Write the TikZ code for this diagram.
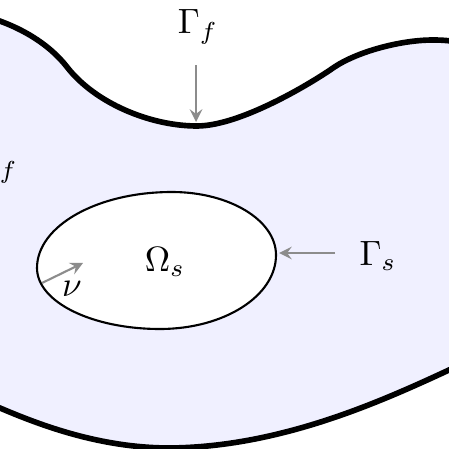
\documentclass[tikz,border=0pt]{standalone}
\usepackage{amsmath,amssymb}
\usetikzlibrary{arrows,positioning,calc}

\begin{document}
\begin{tikzpicture}[
        x=0.01cm, y=-0.01cm,
        boundary/.style={line width=1.6pt, fill=blue!6},
        solid/.style={line width=0.6pt, fill=white},
        ptr/.style={->, >=stealth, draw=black!45, line width=0.6pt},
        lbl/.style={font=\normalsize}
    ]
    \useasboundingbox (0,0) rectangle (449,449);

    % Fluid domain
    \draw[boundary] (-20,15) .. controls (20,25) and (50,45) .. (67,67)
        .. controls (95,103) and (150,126) .. (197,126)
        .. controls (240,126) and (310,84) .. (333,68)
        .. controls (356,52) and (400,40) .. (433,40)
        .. controls (470,40) and (520,50) .. (520,150)
        -- (520,330)
        .. controls (500,345) and (480,355) .. (449,370)
        .. controls (380,402) and (280,447) .. (170,448)
        .. controls (100,448) and (40,425) .. (0,408)
        .. controls (-30,395) .. (-60,380) -- (-60,10) -- cycle;

    % Solid domain
    \draw[solid] (37,268) .. controls (37,226) and (97,192) .. (172,192)
        .. controls (229,192) and (276,220) .. (276,255)
        .. controls (276,296) and (224,329) .. (160,329)
        .. controls (92,329) and (37,302) .. cycle;

    % Labels
    \node[lbl] (omegas) at (165,262) {$\Omega_s$};
    \node[lbl] (omegaf) at (-4,166) {$\Omega_f$};
    \node[lbl] (gammaf) at (198,27) {$\Gamma_f$};
    \node[lbl] (gammas) at (378,256) {$\Gamma_s$};
    \node[lbl] (nu) at (72,289) {$\nu$};

    % Arrow ends
    \coordinate (ftop) at (196,122);
    \coordinate (sright) at (279,253);
    \coordinate (nubase) at (42,283);
    \coordinate (nutip) at (83,263);

    \draw[ptr, shorten <=0.09cm] (gammaf.south -| ftop) -- (ftop);
    \draw[ptr, shorten <=0.12cm] (gammas.west |- sright) -- (sright);
    \draw[ptr] (nubase) -- (nutip);

\end{tikzpicture}
\end{document}
